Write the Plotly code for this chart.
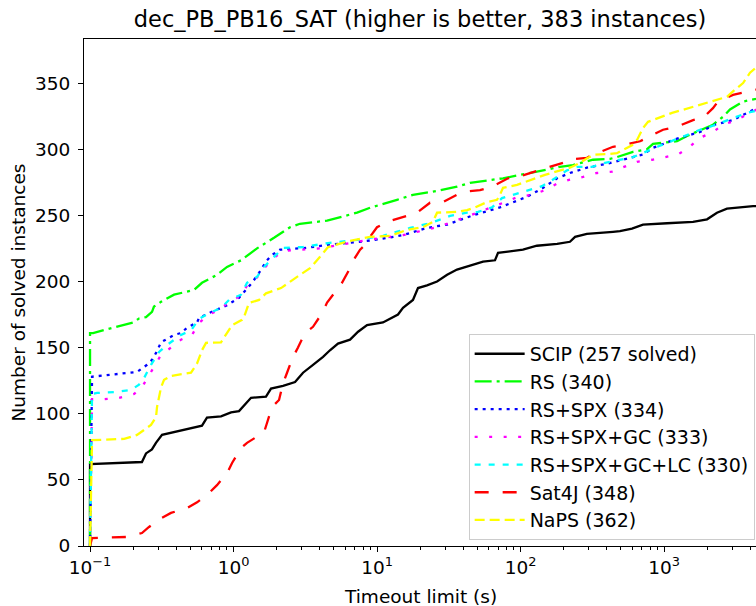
import plotly.graph_objects as go

# ---- data (time in s, number of solved instances) ----
scip_t = [0.1, 0.1, 0.23, 0.2455, 0.27, 0.288, 0.3175, 0.467, 0.603, 0.653, 0.818, 0.961, 1.092, 1.324, 1.683,
          1.825, 2.213, 2.684, 3.05, 3.58, 4.206, 4.70, 5.346, 6.486, 7.38, 8.52, 11.0, 14.0, 15.17, 17.8, 19.3,
          22.3, 26.2, 30.8, 36.1, 44.5, 54.8, 66.4, 69.7, 104, 130, 180, 221, 240, 290, 441, 493, 598, 714, 1050,
          1593, 1995, 2339, 2746, 4171, 5000]
scip_n = [0, 62, 63.5, 70, 73, 78, 84, 88, 91, 97, 98, 101, 102, 112, 113, 119, 121, 124, 131, 137, 143, 148, 153,
          156, 162, 167, 169, 175, 180, 186, 195, 197, 200, 205, 209, 212, 215, 216, 221.6, 224, 227, 228.4, 230,
          233.7, 236, 237.5, 238, 240, 243, 244, 245, 247, 252, 255, 257, 257]

rs_t = [0.1, 0.1, 0.105, 0.123, 0.1995, 0.2195, 0.2455, 0.2704, 0.279, 0.3125, 0.385, 0.531, 0.603, 0.767, 0.901,
        1.128, 1.324, 1.458, 1.915, 2.178, 2.476, 2.904, 4.487, 7.26, 8.94, 13.78, 17.8, 26.2, 36.1, 44.5, 75.5,
        130, 188, 232, 320, 421, 470, 608, 762, 838, 1233, 1446, 2193, 2575, 2882, 3556, 4375, 5000]
rs_n = [0, 161, 161, 163, 169, 172, 173, 177, 181, 184.6, 190, 193.6, 199, 205, 211, 216, 221.6, 225, 233, 237, 241,
        243.6, 246, 252, 255.7, 261.7, 265.5, 268.5, 271.6, 274.6, 278, 283, 286.7, 288, 292, 292.7, 294, 298, 300,
        304, 306, 310, 318.5, 324.5, 330, 336, 338, 340]

spx_t = [0.1, 0.1033, 0.2126, 0.2496, 0.2704, 0.2884, 0.3125, 0.385, 0.4305, 0.474, 0.557, 0.575, 0.731, 0.901,
         1.092, 1.242, 1.345, 1.506, 1.711, 1.854, 2.109, 3.252, 4.487, 7.62, 10.5, 15.17, 22.3, 30.8, 37.8, 46.7,
         71.9, 111, 144, 180, 221, 290, 401, 552, 714, 838, 1233, 1782, 2265, 3025, 3787, 4375, 5000]
spx_n = [0, 128, 131.6, 137, 140.7, 146, 154, 159.6, 161, 165, 169, 172.5, 177.8, 182, 187.6, 195, 199, 206.5, 216,
         220, 224, 225.4, 227.7, 230, 232, 235, 240.5, 243, 246.6, 250, 256, 264, 270.8, 278, 282, 286, 289, 292.7,
         296, 301, 308, 313, 318.5, 322, 327.5, 331, 334]

gc_t = [0.1, 0.1033, 0.125, 0.159, 0.203, 0.230, 0.2577, 0.3125, 0.3666, 0.4305, 0.514, 0.575, 0.675, 0.818, 0.930,
        1.128, 1.242, 1.458, 1.632, 1.915, 2.213, 4.007, 9.38, 15.17, 26.2, 36.1, 42.4, 78.0, 96.1, 120, 148, 180,
        221, 273, 341, 434, 535, 649, 825, 1016, 1253, 1517, 1782, 2193, 2575, 3124, 3787, 4375, 5000]
gc_n = [0, 111, 111, 112, 115, 120, 129, 144.5, 150, 156, 159.6, 168.7, 175, 179, 185, 189, 197, 203, 210, 218, 223,
        225, 232, 235, 241, 246, 249, 260, 264, 265.5, 269, 274, 277, 279, 282, 283, 286.7, 290.5, 292, 294, 296,
        302, 308.6, 313, 318.5, 321.5, 326, 330, 333]

lc_t = [0.1, 0.1033, 0.112, 0.152, 0.193, 0.2195, 0.238, 0.266, 0.2884, 0.3027, 0.344, 0.3666, 0.4305, 0.5055,
        0.557, 0.575, 0.675, 0.818, 0.930, 1.128, 1.242, 1.458, 1.632, 1.915, 2.213, 3.05, 4.56, 7.26, 11.0, 17.0,
        23.4, 32.3, 42.4, 50.6, 63.3, 74.3, 111, 141, 174, 211, 252, 315, 388, 608, 908, 1292, 1782, 2193, 3025,
        3787, 4375, 5000]
lc_n = [0, 115, 115.7, 116.5, 118, 122, 127, 137, 143, 146.7, 152, 154, 159.6, 163, 169, 171.7, 176, 180, 186, 190,
        199, 203.5, 211, 218.6, 225.4, 226, 229, 231.5, 234.5, 240.5, 244, 249.6, 252, 252.6, 256, 263, 269, 272,
        278, 284, 286.7, 286.7, 289.7, 294, 302, 308.6, 314.7, 317.7, 323.7, 327.5, 329, 330]

sat4j_t = [0.1, 0.1033, 0.178, 0.230, 0.2577, 0.3125, 0.3666, 0.474, 0.557, 0.675, 0.767, 0.901, 0.977, 1.128, 1.242,
           1.632, 1.711, 1.854, 2.075, 2.213, 2.36, 2.60, 2.814, 3.148, 3.58, 4.14, 4.487, 5.26, 5.70, 6.486, 7.03,
           7.62, 8.52, 8.94, 10.0, 11.75, 15.17, 19.0, 23.4, 28.8, 36.1, 42.4, 52.2, 63.3, 81.8, 96.1, 137, 153,
           198, 214, 290, 320, 441, 518, 681, 774, 984, 1233, 1593, 1871, 2193, 2377, 3025, 3787, 4375, 5000]
sat4j_n = [0, 6, 6.8, 9.8, 14.4, 21, 25, 28.7, 33, 40, 46, 55, 62.8, 74, 78, 86, 93, 105, 110.4, 123, 131, 143, 150,
           161, 165.7, 176, 184, 193.6, 199, 210, 218, 224, 229, 233.7, 241, 245, 249, 252, 259.5, 260, 265.5, 268,
           269, 271.6, 278, 279, 284.4, 286, 289.7, 292, 293.5, 295.8, 301.8, 303, 306, 309, 314.7, 317, 322, 323.7,
           331, 336, 341, 343.4, 345, 348]

naps_t = [0.1, 0.1033, 0.173, 0.2126, 0.266, 0.2884, 0.293, 0.3125, 0.328, 0.3666, 0.5055, 0.557, 0.603, 0.643,
          0.818, 0.901, 0.977, 1.146, 1.183, 1.282, 1.506, 1.683, 2.143, 2.772, 3.412, 4.007, 4.56, 6.486, 8.94,
          12.33, 16.2, 20.9, 24.5, 26.2, 36.1, 42.4, 48.2, 58.5, 68.6, 71.9, 75.5, 94.6, 130, 148, 221, 260, 295,
          330, 421, 470, 518, 598, 649, 714, 774, 908, 1138, 1356, 1782, 2193, 2746, 3124, 3556, 3975, 4375, 5000]
naps_n = [0, 80, 81, 84, 91.5, 97.6, 105, 120, 125.6, 128.6, 131, 138, 148, 153.6, 154, 161, 167, 171, 173, 183.8,
          186, 191, 195, 203.5, 210, 218.6, 226, 230.7, 233.7, 234.5, 239, 241, 245, 252, 252.6, 254, 256, 260,
          261.7, 265.5, 270.8, 273, 278, 280.6, 286, 289.7, 293.5, 295.8, 296.5, 297, 299.5, 303, 307, 316, 320.7,
          323.7, 327.5, 329.8, 333.6, 337, 339.6, 345, 350, 357.8, 361.6, 362]

labels = ["SCIP (257 solved)", "RS (340)", "RS+SPX (334)", "RS+SPX+GC (333)",
          "RS+SPX+GC+LC (330)", "Sat4J (348)", "NaPS (362)"]
x_tickvals = [0.1, 1, 10, 100, 1000]
x_ticktext = ["10<sup>\u22121</sup>", "10<sup>0</sup>", "10<sup>1</sup>", "10<sup>2</sup>", "10<sup>3</sup>"]
y_tickvals = [0, 50, 100, 150, 200, 250, 300, 350]

series = [(scip_t, scip_n), (rs_t, rs_n), (spx_t, spx_n), (gc_t, gc_n),
          (lc_t, lc_n), (sat4j_t, sat4j_n), (naps_t, naps_n)]
styles = [("#000000", "solid"), ("#00ff00", "17px,5px,3px,5px"), ("#0000ff", "3px,5px"),
          ("#ff00ff", "3px,11.5px"), ("#00ffff", "6px,8px"), ("#ff0000", "14px,14px"),
          ("#ffff00", "10px,5px")]

FONT = "DejaVu Sans, sans-serif"
fig = go.Figure()
for i, ((t, n), lab, (col, dash)) in enumerate(zip(series, labels, styles)):
    fig.add_trace(go.Scatter(x=t, y=n, mode="lines", name=lab, legendgroup=str(i),
                             line=dict(color=col, width=2.3, dash=dash)))

fig.update_layout(
    width=756, height=606,
    margin=dict(l=84, r=0, t=39, b=60),
    paper_bgcolor="white", plot_bgcolor="white",
    font=dict(family=FONT, size=18.5, color="#000000"),
    showlegend=True,
    title=dict(text="dec_PB_PB16_SAT (higher is better, 383 instances)", x=0.5, xref="paper",
               xanchor="center", y=1 - 19 / 606, yref="container", yanchor="middle",
               font=dict(family=FONT, size=22.5, color="#000000")),
    legend=dict(x=0.998, xanchor="right", y=0.012, yanchor="bottom",
                bgcolor="rgba(255,255,255,0.8)", bordercolor="#cccccc", borderwidth=1,
                font=dict(family=FONT, size=19), itemwidth=50, tracegroupgap=5,
                traceorder="normal"),
)
fig.update_xaxes(type="log", range=[-1.042, 3.641], showgrid=False, zeroline=False,
                 showline=True, linecolor="black", linewidth=1.1, mirror=True,
                 ticks="outside", ticklen=5, tickwidth=1.1, tickcolor="black",
                 tickvals=x_tickvals, ticktext=x_ticktext,
                 minor=dict(ticks="outside", ticklen=3, tickwidth=0.9, tickcolor="black", dtick="D1"),
                 tickfont=dict(family=FONT, size=18.5))
fig.update_yaxes(range=[0, 383.3], showgrid=False, zeroline=False,
                 showline=True, linecolor="black", linewidth=1.1, mirror=False,
                 ticks="outside", ticklen=5, tickwidth=1.1, tickcolor="black", ticklabelstandoff=4,
                 tickvals=y_tickvals, tickfont=dict(family=FONT, size=18.5))

fig.add_annotation(text="Timeout limit (s)", xref="paper", yref="paper", x=0.5, y=-(596 - 546) / 507,
                   xanchor="center", yanchor="middle", showarrow=False, font=dict(family=FONT, size=18.5))
fig.add_annotation(text="Number of solved instances", xref="paper", yref="paper", x=-(84 - 18) / 672,
                   y=0.5, xanchor="center", yanchor="middle", textangle=-90, showarrow=False,
                   font=dict(family=FONT, size=18.5))

fig.write_html("out.html")
